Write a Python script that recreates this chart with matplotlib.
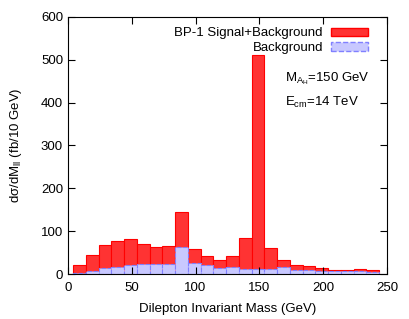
import numpy as np
import matplotlib.pyplot as plt
from matplotlib.patches import Patch

plt.rcParams['font.family'] = ['Liberation Sans', 'DejaVu Sans']
plt.rcParams['mathtext.fontset'] = 'custom'
plt.rcParams['mathtext.rm'] = 'Liberation Sans'
plt.rcParams['mathtext.it'] = 'Liberation Sans'

# bin centres (GeV) and cross sections (fb/10 GeV)
mass = np.arange(9, 240, 10)
sig_bkg = [21, 44, 68, 77, 81, 70, 63, 66, 145, 58, 41, 33,
           42, 85, 512, 61, 32, 22, 19, 15, 10, 10, 11, 9]
bkg = [3, 8, 15, 16, 22, 23, 24, 24, 62, 26, 21, 15,
       17, 12, 12, 12, 16, 10, 10, 8, 7, 6, 6, 5]

fig = plt.figure(figsize=(4.09, 3.19), dpi=100)
ax = fig.add_axes([0.166, 0.141, 0.780, 0.806])

red = '#ff3333'
blue_fill = '#c8c8ff'

ax.bar(mass, sig_bkg, width=10, color=red, edgecolor='#ff0000', linewidth=0.8)
ax.bar(mass, bkg, width=10, color=blue_fill, edgecolor='#8080ff',
       linewidth=0.8, linestyle='--')

ax.set_xlim(0, 250)
ax.set_ylim(0, 600)
ax.set_xticks(np.arange(0, 251, 50))
ax.set_yticks(np.arange(0, 601, 100))
ax.tick_params(direction='in', top=True, right=True, length=5, labelsize=9.5)
ax.tick_params(axis='x', pad=6)

ax.set_xlabel('Dilepton Invariant Mass (GeV)', fontsize=9.5, labelpad=6)
ax.set_ylabel(r'd$\sigma$/dM$_{ll}$ (fb/10 GeV)', fontsize=9.5, labelpad=12)

ax.text(0.68, 0.75, r'M$_{A_H}$=150 GeV', transform=ax.transAxes, fontsize=9.5)
ax.text(0.68, 0.655, r'E$_{cm}$=14 TeV', transform=ax.transAxes, fontsize=9.5)

handles = [Patch(facecolor=red, edgecolor='#ff0000'),
           Patch(facecolor=blue_fill, edgecolor='#8080ff', linestyle='--')]
ax.legend(handles, ['BP-1 Signal+Background', 'Background'], loc='upper right',
          markerfirst=False, frameon=False, fontsize=9.5, handlelength=2.8,
          handleheight=0.6, handletextpad=0.6, labelspacing=0.2,
          borderaxespad=0.2, bbox_to_anchor=(0.965, 0.99))

fig.savefig('out.png', dpi=100)
